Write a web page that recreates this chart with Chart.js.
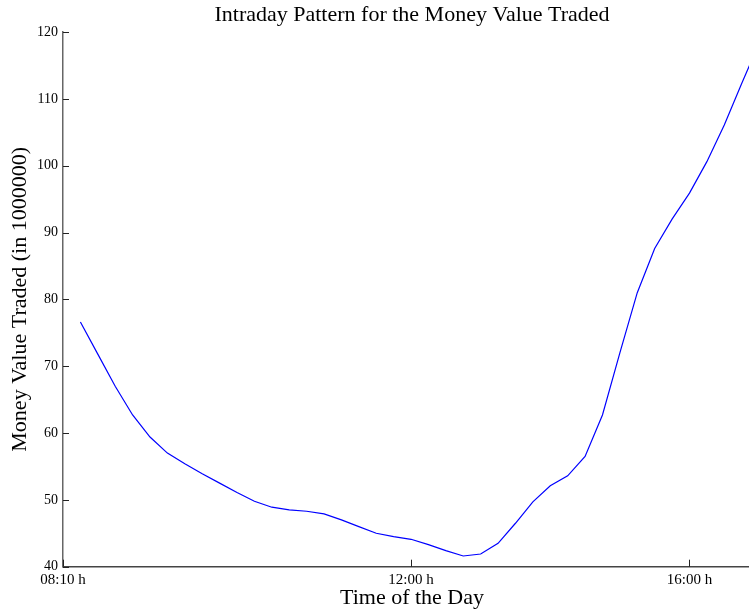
<!DOCTYPE html>
<html>
<head>
<meta charset="utf-8">
<script src="https://cdn.jsdelivr.net/npm/chart.js@4.4.1/dist/chart.umd.min.js"></script>
<style>
html,body{margin:0;padding:0;background:#fff;overflow:hidden;width:749px;height:613px;}
#wrap{width:761px;height:613px;}
</style>
</head>
<body>
<div id="wrap"><canvas id="c" width="761" height="613"></canvas></div>
<script>
// Data
const slotIndex = [0,1,2,3,4,5,6,7,8,9,10,11,12,13,14,15,16,17,18,19,20,21,22,23,24,25,26,27,28,29,30,31,32,33,34,35,36,37,38,39];
const moneyValue = [76.6,71.8,67.0,62.7,59.4,57.0,55.4,53.9,52.5,51.1,49.8,48.9,48.5,48.3,47.9,47.0,46.0,45.0,44.5,44.1,43.3,42.4,41.6,41.9,43.5,46.5,49.7,52.1,53.6,56.5,62.7,72.0,81.0,87.6,92.0,95.9,100.6,106.1,112.3,118.3];
const xTickPositions = [-1, 19, 35];
const xTickLabels = ['08:10 h', '12:00 h', '16:00 h'];
const yTickValues = [40,50,60,70,80,90,100,110,120];

const serif = "'Liberation Serif','Times New Roman',serif";

const points = slotIndex.map((s, i) => ({x: s, y: moneyValue[i]}));

const inwardTicks = {
  id: 'inwardTicks',
  afterDatasetsDraw(chart) {
    const ctx = chart.ctx;
    const xs = chart.scales.x, ys = chart.scales.y;
    const area = chart.chartArea;
    ctx.save();
    ctx.strokeStyle = '#222';
    ctx.lineWidth = 1;
    xs.ticks.forEach(t => {
      const px = Math.round(xs.getPixelForValue(t.value)) + 0.5;
      ctx.beginPath();
      ctx.moveTo(px, area.bottom);
      ctx.lineTo(px, area.bottom - 7);
      ctx.stroke();
    });
    ys.ticks.forEach(t => {
      const py = Math.round(ys.getPixelForValue(t.value)) + 0.5;
      ctx.beginPath();
      ctx.moveTo(area.left, py);
      ctx.lineTo(area.left + 6, py);
      ctx.stroke();
    });
    ctx.restore();
  }
};

new Chart(document.getElementById('c'), {
  type: 'line',
  data: {
    datasets: [{
      data: points,
      borderColor: '#0000ff',
      borderWidth: 1.2,
      pointRadius: 0,
      tension: 0,
      fill: false
    }]
  },
  options: {
    responsive: false,
    animation: false,
    layout: {padding: 0},
    plugins: {
      legend: {display: false},
      tooltip: {enabled: false}
    },
    scales: {
      top: {
        type: 'linear',
        position: 'top',
        min: -1,
        max: 39.11,
        afterFit(scale) { scale.height = 32; },
        ticks: {display: false},
        grid: {display: false, drawTicks: false},
        border: {display: false},
        title: {
          display: true,
          text: 'Intraday Pattern for the Money Value Traded',
          color: '#000',
          font: {family: serif, size: 22, lineHeight: 1.2},
          padding: {top: 2, bottom: 0}
        }
      },
      x: {
        type: 'linear',
        position: 'bottom',
        min: -1,
        max: 39.11,
        afterBuildTicks(scale) {
          scale.ticks = xTickPositions.map(v => ({value: v}));
        },
        afterFit(scale) { scale.height = 46.3; },
        ticks: {
          autoSkip: false,
          maxRotation: 0,
          padding: 4,
          color: '#000',
          font: {family: serif, size: 15},
          callback(value) {
            const i = xTickPositions.indexOf(value);
            return i >= 0 ? xTickLabels[i] : '';
          }
        },
        grid: {display: true, drawOnChartArea: false, drawTicks: false, tickLength: 0},
        border: {display: true, color: '#444', width: 1.5},
        title: {
          display: true,
          text: 'Time of the Day',
          color: '#000',
          font: {family: serif, size: 22, lineHeight: 1.2},
          padding: {top: 0, bottom: 2}
        }
      },
      y: {
        type: 'linear',
        min: 40,
        max: 120,
        afterBuildTicks(scale) {
          scale.ticks = yTickValues.map(v => ({value: v}));
        },
        afterFit(scale) { scale.width = 63; },
        ticks: {
          padding: 5,
          color: '#000',
          font: {family: serif, size: 14}
        },
        grid: {display: true, drawOnChartArea: false, drawTicks: false, tickLength: 0},
        border: {display: true, color: '#666', width: 1.5},
        title: {
          display: true,
          text: 'Money Value Traded (in 1000000)',
          color: '#000',
          font: {family: serif, size: 22, lineHeight: 1.2},
          padding: {top: 7, bottom: 0}
        }
      }
    }
  },
  plugins: [inwardTicks]
});
</script>
</body>
</html>
